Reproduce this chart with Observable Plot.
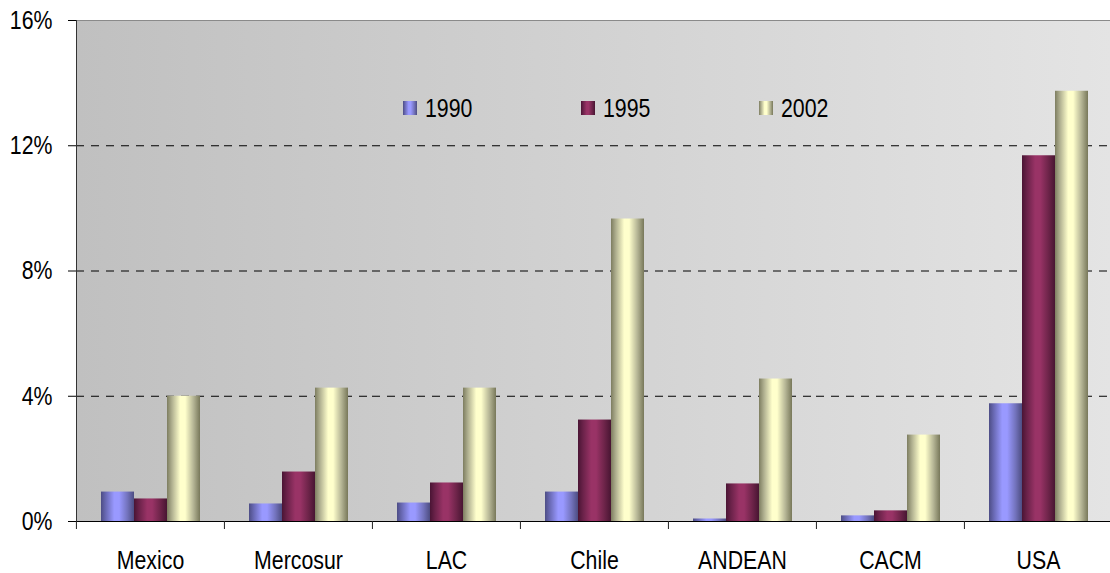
<!DOCTYPE html>
<html><head><meta charset="utf-8">
<script src="https://cdn.jsdelivr.net/npm/d3@7"></script>
<script src="https://cdn.jsdelivr.net/npm/@observablehq/plot@0.6"></script>
<style>
html,body{margin:0;padding:0;background:#fff;overflow:hidden;}
#wrap{position:relative;width:1110px;height:573px;overflow:hidden;}
#wrap svg{max-width:none !important;}
#legend{position:absolute;left:403px;top:93px;display:flex;font-family:"Liberation Sans",Arial,sans-serif;font-size:26px;color:#000;line-height:30px;}
.item{width:178px;display:flex;align-items:center;}
.sw{width:14px;height:14px;margin-right:8px;flex:none;}
.item span{display:inline-block;transform:scaleX(0.82);transform-origin:left center;}
</style></head><body><div id="wrap"><div id="legend"></div></div>
<script>
const categories = ["Mexico", "Mercosur", "LAC", "Chile", "ANDEAN", "CACM", "USA"];
const years = ["1990", "1995", "2002"];
const v1990 = [0.94, 0.56, 0.59, 0.94, 0.08, 0.18, 3.76];
const v1995 = [0.72, 1.58, 1.23, 3.24, 1.20, 0.34, 11.68];
const v2002 = [4.00, 4.26, 4.26, 9.66, 4.55, 2.76, 13.74];
const yTicks = [0, 4, 8, 12, 16];
const gridValues = [4, 8, 12];

const series = [v1990, v1995, v2002];
const data = categories.flatMap((c, i) => years.map((y, j) => ({region: c, year: y, value: series[j][i]})));

const gradStops = {
  "1990": ["#4d4d85", "#6a6ab5", "#9999ff", "#9999ff", "#7373bd", "#4d4d82"],
  "1995": ["#4a1434", "#6a2249", "#993366", "#993366", "#6d2449", "#481532"],
  "2002": ["#7d7d60", "#b0b090", "#ffffcc", "#ffffcc", "#b5b595", "#78785a"]
};
const stopOffsets = [0, 0.15, 0.4, 0.55, 0.8, 1];

const W = 1112, ML = 75, MR = 0;
const step = (W - ML - MR) / categories.length;
const font = '"Liberation Sans",Arial,sans-serif';
const squeeze = 0.82;

const svg = Plot.plot({
  width: W, height: 573,
  marginLeft: ML, marginRight: MR, marginTop: 20, marginBottom: 52,
  style: {fontFamily: font, fontSize: "26px", color: "#000", background: "transparent", overflow: "visible"},
  fx: {domain: categories, padding: 0, label: null, axis: null},
  x: {domain: years, paddingInner: 0, paddingOuter: 0.74, axis: null},
  y: {domain: [0, 16], axis: null},
  color: {domain: years, range: years.map(y => `url(#bar${y})`)},
  marks: [
    Plot.frame({facet: "super", fill: "url(#bgGrad)", stroke: "#8a8a8a"}),
    Plot.ruleY(gridValues, {stroke: "#000", strokeDasharray: "8,7"}),
    Plot.barY(data, {fx: "region", x: "year", y: "value", fill: "year"}),
    Plot.ruleY([0], {stroke: "#000"}),
    Plot.frame({facet: "super", anchor: "left", stroke: "#333"}),
    Plot.axisY({ticks: yTicks, tickFormat: d => d + "%", tickSize: 8, tickPadding: 16, fontSize: 26, label: null}),
    Plot.axisFx({anchor: "bottom", tickSize: 0, tickPadding: 29, fontSize: 26, label: null}),
    Plot.axisFx({anchor: "bottom", tickSize: 8, tickFormat: () => "", dx: -step / 2, label: null, stroke: "#222"})
  ]
});
svg.style.maxWidth = "none";

// narrow the glyphs horizontally (the reference uses a condensed face)
d3.select(svg).selectAll("text").each(function() {
  const el = this;
  const tr = el.getAttribute("transform");
  if (tr) {
    el.setAttribute("transform", tr + ` scale(${squeeze},1)`);
  } else {
    const x = +(el.getAttribute("x") || 0);
    el.setAttribute("transform", `translate(${x},0) scale(${squeeze},1) translate(${-x},0)`);
  }
});

const defs = d3.select(svg).insert("defs", ":first-child");
const bg = defs.append("linearGradient").attr("id", "bgGrad").attr("x1", 0).attr("x2", 1).attr("y1", 0).attr("y2", 0);
bg.append("stop").attr("offset", 0).attr("stop-color", "#c0c0c0");
bg.append("stop").attr("offset", 1).attr("stop-color", "#e4e4e4");
years.forEach(y => {
  const g = defs.append("linearGradient").attr("id", "bar" + y).attr("x1", 0).attr("x2", 1).attr("y1", 0).attr("y2", 0);
  gradStops[y].forEach((c, k) => g.append("stop").attr("offset", stopOffsets[k]).attr("stop-color", c));
});

const wrap = document.getElementById("wrap");
wrap.insertBefore(svg, wrap.firstChild);

const legend = document.getElementById("legend");
years.forEach(y => {
  const item = document.createElement("div");
  item.className = "item";
  const sw = document.createElement("div");
  sw.className = "sw";
  sw.style.background = "linear-gradient(to right," + gradStops[y].map((c, k) => c + " " + (stopOffsets[k] * 100) + "%").join(",") + ")";
  const t = document.createElement("span");
  t.textContent = y;
  item.appendChild(sw); item.appendChild(t);
  legend.appendChild(item);
});
</script></body></html>
